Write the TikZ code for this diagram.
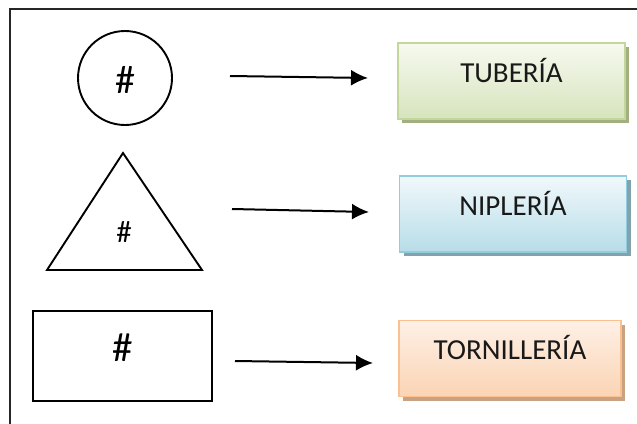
\documentclass[tikz,border=0pt]{standalone}
\usepackage{fontspec}
\setmainfont{Carlito}
\usetikzlibrary{arrows.meta,shadows}

\definecolor{verdeborde}{HTML}{C3D69B}
\definecolor{verdearriba}{HTML}{F6F9EF}
\definecolor{verdeabajo}{HTML}{D7E4BD}
\definecolor{verdesombra}{HTML}{A2B07F}
\definecolor{azulborde}{HTML}{93CDDD}
\definecolor{azularriba}{HTML}{F1F8FB}
\definecolor{azulabajo}{HTML}{B7DDE8}
\definecolor{azulsombra}{HTML}{80A3AD}
\definecolor{naranjaborde}{HTML}{FAC090}
\definecolor{naranjaarriba}{HTML}{FEF0E6}
\definecolor{naranjaabajo}{HTML}{FBD4B4}
\definecolor{naranjasombra}{HTML}{C9A284}

\begin{document}
\begin{tikzpicture}[x=1pt, y=-1pt,
  forma/.style={draw, line width=1.9pt},
  caja/.style={line width=1.9pt, minimum width=227pt, minimum height=76pt,
    text height=18pt, text depth=16pt, text=black!90,
    font=\fontsize{29}{30}\selectfont},
  flecha/.style={->, >={Latex[length=17pt, width=16pt]}, line width=2pt}]
\useasboundingbox (0,0) rectangle (637,423);

% marco
\draw[line width=1.8pt, black!85] (10,440) -- (10,9) -- (650,9);

% figuras de la izquierda
\node[forma, circle, minimum size=94pt, inner sep=0pt, text height=31pt, text depth=0pt,
  font=\fontsize{40}{42}\selectfont] at (125,78) (circulo) {\#};
\draw[forma] (123,153) -- (202,270) -- (47,270) -- cycle;
\node[font=\fontsize{31}{32}\selectfont] at (124,232) (triangulo) {\#};
\node[forma, minimum width=179pt, minimum height=90pt, text height=27pt, text depth=16pt,
  font=\fontsize{41}{42}\selectfont] at (122.5,356) (rectangulo) {\#};

% cajas
\node[caja, draw=verdeborde, top color=verdearriba, bottom color=verdeabajo,
  general shadow={fill=verdesombra, shadow xshift=4pt, shadow yshift=-4pt}]
  at (511.5,81) (tuberia) {TUBERÍA};
\node[caja, draw=azulborde, top color=azularriba, bottom color=azulabajo,
  general shadow={fill=azulsombra, shadow xshift=4pt, shadow yshift=-4pt}]
  at (513,214) (nipleria) {NIPLERÍA};
\node[caja, draw=naranjaborde, top color=naranjaarriba, bottom color=naranjaabajo,
  minimum width=222pt, general shadow={fill=naranjasombra, shadow xshift=4pt, shadow yshift=-4pt}]
  at (510,358.5) (tornilleria) {TORNILLERÍA};

% flechas
\coordinate (f1a) at (230,76);
\coordinate (f1b) at (368,78);
\coordinate (f2a) at (232,209);
\coordinate (f2b) at (369,212);
\coordinate (f3a) at (235,361);
\coordinate (f3b) at (373,363);
\draw[flecha] (f1a) -- (f1b);
\draw[flecha] (f2a) -- (f2b);
\draw[flecha] (f3a) -- (f3b);

\end{tikzpicture}
\end{document}
